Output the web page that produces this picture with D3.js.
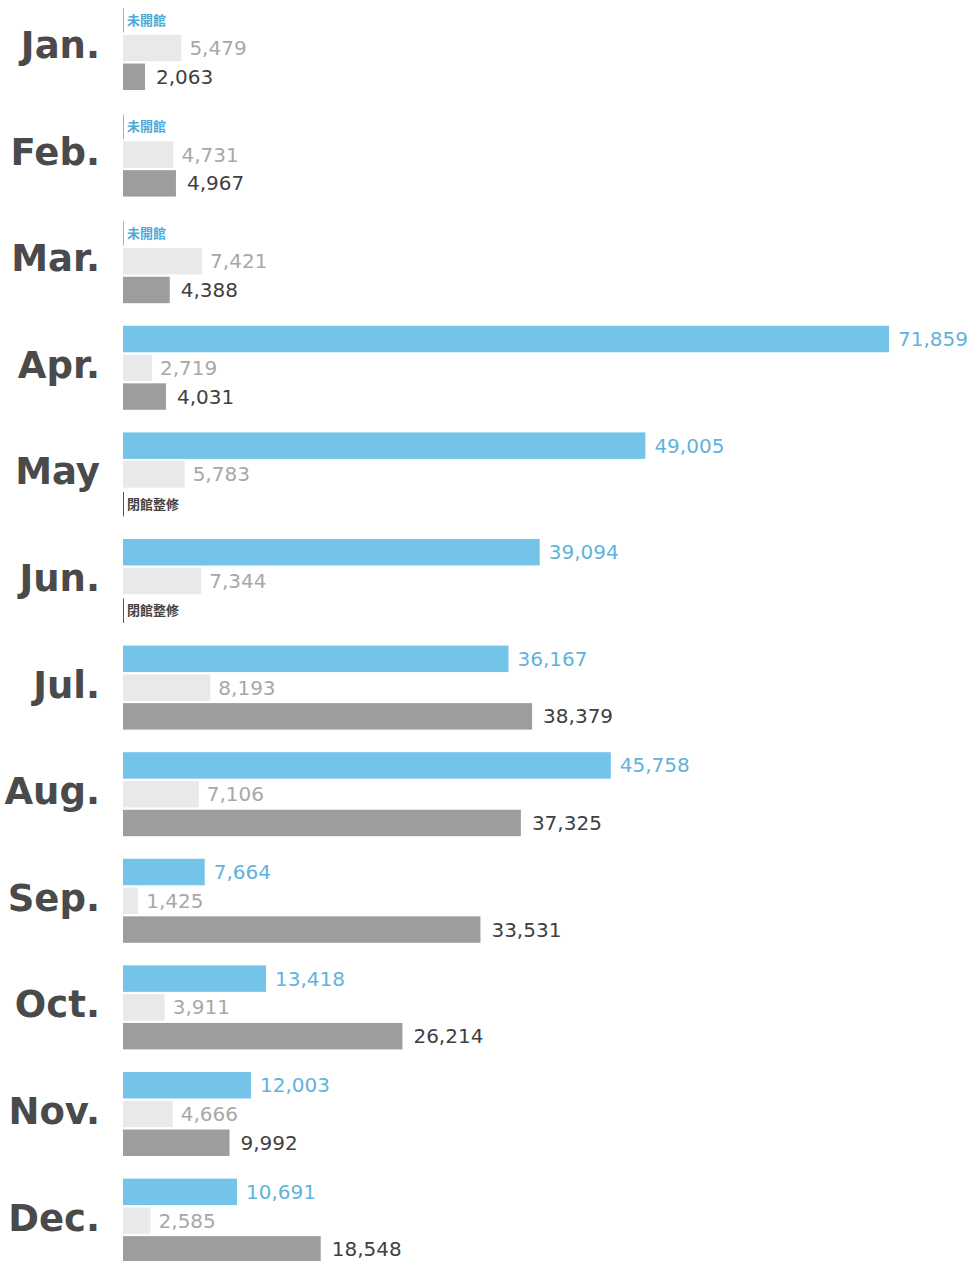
<!DOCTYPE html>
<meta charset="utf-8">
<script src="https://d3js.org/d3.v7.min.js"></script>
<style>
  body { margin: 0; background: #fff; }
  text { font-family: "DejaVu Sans", "Noto Sans", sans-serif; }
</style>
<body>
<div id="chart"></div>
<script>
  // months and the three series (null = no value for that month)
  var months = ["Jan.", "Feb.", "Mar.", "Apr.", "May", "Jun.", "Jul.", "Aug.", "Sep.", "Oct.", "Nov.", "Dec."];
  var blueValues = [null, null, null, 71859, 49005, 39094, 36167, 45758, 7664, 13418, 12003, 10691];
  var lightValues = [5479, 4731, 7421, 2719, 5783, 7344, 8193, 7106, 1425, 3911, 4666, 2585];
  var darkValues = [2063, 4967, 4388, 4031, null, null, 38379, 37325, 33531, 26214, 9992, 18548];
  var seriesKeys = ["blue", "light", "dark"];
  var missingText = { blue: "未開館", dark: "閉館整修" };

  var width = 974, height = 1261;
  var svg = d3.select("#chart").append("svg")
    .attr("width", width)
    .attr("height", height);

  var x = d3.scaleLinear().domain([0, 71859]).range([123, 889]);
  var y = d3.scaleBand().domain(months).range([6, 6 + 12 * 106.6]);
  var ySub = d3.scaleBand().domain(seriesKeys).range([0, 84]).paddingInner(0.08);

  var colors = { blue: "#74c3e9", light: "#e9e9e9", dark: "#9d9d9d" };
  var labelColors = { blue: "#5fb3dc", light: "#a8a8a8", dark: "#3f3f3f" };
  var labelGap = { blue: 9, light: 8, dark: 11 };

  var rows = [];
  months.forEach(function (m, i) {
    rows.push({ month: m, key: "blue", value: blueValues[i] });
    rows.push({ month: m, key: "light", value: lightValues[i] });
    rows.push({ month: m, key: "dark", value: darkValues[i] });
  });

  // month labels
  svg.append("g").selectAll("text")
    .data(months)
    .enter().append("text")
    .attr("x", 100)
    .attr("y", function (d) { return y(d) + ySub("light") + ySub.bandwidth() / 2 - 3; })
    .attr("dy", "0.35em")
    .attr("text-anchor", "end")
    .attr("fill", "#4a4a4a")
    .style("font-size", "37px")
    .style("font-weight", "bold")
    .text(function (d) { return d; });

  var present = rows.filter(function (d) { return d.value != null; });
  var missing = rows.filter(function (d) { return d.value == null; });

  // bars
  svg.append("g").selectAll("rect")
    .data(present)
    .enter().append("rect")
    .attr("x", x(0))
    .attr("y", function (d) { return y(d.month) + ySub(d.key); })
    .attr("width", function (d) { return x(d.value) - x(0); })
    .attr("height", ySub.bandwidth())
    .attr("fill", function (d) { return colors[d.key]; });

  // value labels
  svg.append("g").selectAll("text")
    .data(present)
    .enter().append("text")
    .attr("x", function (d) { return x(d.value) + labelGap[d.key]; })
    .attr("y", function (d) { return y(d.month) + ySub(d.key) + ySub.bandwidth() / 2; })
    .attr("dy", "0.35em")
    .attr("fill", function (d) { return labelColors[d.key]; })
    .style("font-size", "20px")
    .text(function (d) { return d3.format(",")(d.value); });

  // notes where a series has no value
  var notes = svg.append("g").selectAll("g")
    .data(missing)
    .enter().append("g")
    .attr("transform", function (d) { return "translate(" + x(0) + "," + (y(d.month) + ySub(d.key)) + ")"; });

  notes.append("line")
    .attr("x1", 0.5).attr("x2", 0.5)
    .attr("y1", 2).attr("y2", ySub.bandwidth())
    .attr("stroke", function (d) { return d.key == "blue" ? "#74c3e9" : "#555"; })
    .attr("stroke-width", 1);

  notes.append("text")
    .attr("x", 4)
    .attr("y", ySub.bandwidth() / 2 + 1)
    .attr("dy", "0.35em")
    .attr("fill", function (d) { return d.key == "blue" ? "#4fa9d8" : "#444"; })
    .style("font-family", "'Noto Sans CJK TC', sans-serif")
    .style("font-size", "13px")
    .style("font-weight", "bold")
    .text(function (d) { return missingText[d.key]; });
</script>
</body>
